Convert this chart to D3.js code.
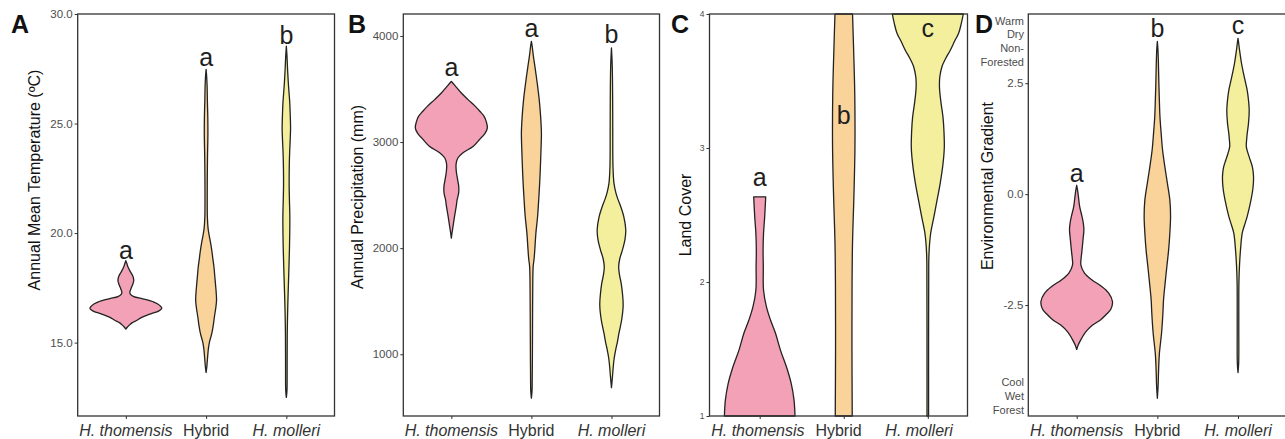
<!DOCTYPE html>
<html><head><meta charset="utf-8">
<script src="https://cdn.jsdelivr.net/npm/d3@7"></script>
<style>body{margin:0;background:#fff}svg{display:block}text{font-family:"Liberation Sans",Arial,Helvetica,sans-serif}</style>
</head><body><svg id="c" width="1285" height="439"></svg>
<script>
// ---------- data ----------
const categories = ["H. thomensis", "Hybrid", "H. molleri"];
const italicLabel = [true, false, true];
const fillColors = ["#F3A1B6", "#F9D39A", "#F4EF9C"];

// Panel A: Annual mean temperature. Profiles are [value, relative density]
const tempTicks = [15, 20, 25, 30];
const tempLetters = ["a", "a", "b"];
const tempLetterAt = [18.81, 27.63, 28.65];
const tempThomensis = [[15.62,0],[15.7,.04],[15.8,.10],[15.9,.17],[16.02,.31],[16.15,.44],[16.3,.67],[16.45,.92],[16.57,1.0],[16.7,.94],[16.85,.78],[17.0,.47],[17.1,.22],[17.2,.13],[17.3,.11],[17.45,.14],[17.65,.19],[17.85,.22],[18.05,.19],[18.25,.12],[18.45,.06],[18.6,.03],[18.74,0]];
const tempHybrid = [[13.64,0],[13.9,.02],[14.3,.04],[14.67,.06],[15.0,.09],[15.43,.16],[15.8,.20],[16.17,.23],[16.6,.27],[16.93,.29],[17.3,.28],[17.68,.26],[18.05,.24],[18.43,.22],[18.8,.19],[19.19,.16],[19.6,.12],[19.94,.08],[20.2,.056],[20.7,.036],[21.5,.031],[22.5,.033],[23.5,.039],[24.5,.05],[25.3,.047],[26.0,.036],[26.7,.028],[27.1,.017],[27.47,0]];
const tempMolleri = [[12.5,0],[12.8,.017],[14.0,.022],[15.4,.025],[16.2,.033],[16.93,.044],[17.7,.058],[18.43,.072],[19.5,.089],[20.7,.097],[21.5,.086],[22.2,.078],[23.0,.081],[23.7,.092],[24.3,.108],[24.8,.117],[25.4,.108],[25.97,.094],[26.7,.061],[27.5,.033],[28.1,.017],[28.53,0]];

// Panel B: Annual precipitation
const precTicks = [1000, 2000, 3000, 4000];
const precLetters = ["a", "a", "b"];
const precLetterAt = [3625, 3987, 3934];
const precThomensis = [[2094,0],[2150,.022],[2205,.047],[2300,.089],[2400,.139],[2457,.161],[2519,.203],[2580,.206],[2645,.175],[2720,.139],[2790,.131],[2850,.181],[2900,.325],[2958,.603],[3022,.778],[3080,.931],[3132,1.0],[3190,.972],[3242,.911],[3290,.792],[3336,.667],[3400,.464],[3462,.278],[3525,.119],[3550,.056],[3572,0]];
const precHybrid = [[586,0],[650,.017],[727,.022],[1000,.028],[1400,.033],[1700,.039],[1830,.05],[1900,.075],[2000,.097],[2142,.125],[2299,.172],[2457,.203],[2620,.231],[2770,.25],[2930,.267],[3085,.278],[3242,.256],[3400,.217],[3557,.161],[3714,.097],[3808,.056],[3903,.022],[3949,0]];
const precMolleri = [[685,0],[789,.028],[883,.05],[960,.075],[1041,.117],[1120,.167],[1198,.208],[1330,.286],[1465,.325],[1570,.306],[1670,.269],[1750,.222],[1826,.2],[1900,.231],[1984,.306],[2080,.375],[2173,.397],[2290,.347],[2393,.256],[2460,.181],[2519,.125],[2613,.069],[2770,.042],[3100,.036],[3400,.033],[3714,.022],[3887,0]];

// Panel C: Land cover
const landTicks = [1, 2, 3, 4];
const landLetters = ["a", "b", "c"];
const landLetterAt = [2.72, 3.18, 3.83];
const landThomensis = [[1.0,.981],[1.12,.953],[1.244,.875],[1.368,.742],[1.49,.578],[1.617,.439],[1.716,.3],[1.816,.186],[1.94,.106],[2.114,.1],[2.24,.094],[2.36,.106],[2.49,.139],[2.636,.167]];
const landHybrid = [[1.0,.236],[1.5,.228],[2.0,.231],[2.3,.244],[2.6,.278],[3.0,.311],[3.4,.306],[3.7,.278],[4.0,.244]];
const landMolleri = [[1.0,.022],[1.5,.022],[2.0,.025],[2.21,.033],[2.36,.078],[2.49,.172],[2.62,.264],[2.74,.347],[2.87,.417],[3.0,.458],[3.12,.45],[3.23,.422],[3.35,.361],[3.45,.325],[3.53,.333],[3.61,.397],[3.67,.5],[3.73,.625],[3.8,.75],[3.856,.856],[3.93,.931],[4.0,.986]];

// Panel D: Environmental gradient
const envTicks = [-2.5, 0, 2.5];
const envLetters = ["a", "b", "c"];
const envLetterAt = [0.28, 3.55, 3.6];
const envTopNote = ["Warm", "Dry", "Non-", "Forested"];
const envBottomNote = ["Cool", "Wet", "Forest"];
const envThomensis = [[-3.5,0],[-3.4,.042],[-3.28,.117],[-3.17,.194],[-3.06,.3],[-2.95,.444],[-2.83,.667],[-2.7,.833],[-2.6,.944],[-2.42,.994],[-2.23,.889],[-2.08,.694],[-1.93,.417],[-1.78,.217],[-1.6,.117],[-1.45,.122],[-1.33,.139],[-1.03,.175],[-0.8,.2],[-0.65,.183],[-0.5,.147],[-0.28,.083],[-0.05,.047],[0.1,.022],[0.2,0]];
const envHybrid = [[-4.6,0],[-4.3,.022],[-4.0,.033],[-3.6,.056],[-3.13,.117],[-2.7,.153],[-2.38,.172],[-2.0,.217],[-1.63,.264],[-1.25,.314],[-0.88,.347],[-0.5,.367],[-0.13,.347],[0.25,.278],[0.62,.208],[1.0,.144],[1.37,.106],[1.75,.072],[2.12,.056],[2.5,.042],[3.0,.028],[3.25,.017],[3.44,0]];
const envMolleri = [[-4.02,0],[-3.8,.019],[-3.0,.022],[-2.0,.025],[-1.6,.042],[-1.26,.069],[-0.88,.117],[-0.7,.18],[-0.5,.256],[-0.13,.361],[0.15,.417],[0.4,.431],[0.6,.403],[0.77,.339],[0.92,.278],[1.07,.231],[1.22,.239],[1.37,.256],[1.6,.292],[1.89,.311],[2.1,.294],[2.34,.256],[2.52,.208],[2.72,.153],[2.95,.097],[3.25,.042],[3.4,.019],[3.51,0]];

// ---------- drawing ----------
const svg = d3.select("#c");
const TOP = 14, BOTTOM = 416;

function drawPanel(o) {
  const g = svg.append("g");
  const y = d3.scaleLinear().domain(o.yDomain).range([BOTTOM, TOP]);
  const xl = d3.scalePoint().domain(categories).range([o.left, o.right]).padding(0.6);
  const xv = o.violinRange ? d3.scalePoint().domain(categories).range(o.violinRange) : xl;
  const w = d3.scaleLinear().domain([0, 1]).range([0, 36]);

  o.profiles.forEach((prof, i) => {
    const c = xv(categories[i]);
    const area = d3.area()
      .y(d => y(d[0]))
      .x0(d => c - w(d[1]))
      .x1(d => c + w(d[1]))
      .curve(d3.curveCatmullRom.alpha(0.5));
    g.append("path").attr("d", area(prof))
      .attr("fill", fillColors[i]).attr("stroke", "#222").attr("stroke-width", 1.3)
      .attr("stroke-linejoin", "round");
  });

  // frame
  g.append("rect").attr("x", o.left).attr("y", TOP)
    .attr("width", o.right - o.left).attr("height", BOTTOM - TOP)
    .attr("fill", "none").attr("stroke", "#333").attr("stroke-width", 1.3);

  // y axis
  const ya = g.append("g").attr("transform", `translate(${o.left},0)`)
    .call(d3.axisLeft(y).tickValues(o.ticks).tickSize(3).tickPadding(2).tickFormat(o.fmt));
  ya.select(".domain").remove();
  ya.selectAll("line").attr("stroke", "#333");
  ya.selectAll("text").attr("fill", "#4d4d4d").style("font-size", (o.tickSize || 11.5) + "px")
    .style("font-family", '"Liberation Sans",Arial,sans-serif');

  // x axis ticks
  const xa = g.append("g").attr("transform", `translate(0,${BOTTOM})`)
    .call(d3.axisBottom(xv).tickSize(3).tickFormat(""));
  xa.select(".domain").remove();
  xa.selectAll("line").attr("stroke", "#333");

  // x labels
  categories.forEach((c, i) => {
    g.append("text").attr("x", xl(c)).attr("y", 435.5)
      .attr("text-anchor", "middle").attr("fill", "#333")
      .style("font-size", "16px").style("font-style", italicLabel[i] ? "italic" : "normal")
      .text(c);
  });

  // significance letters
  o.letters.forEach((l, i) => {
    g.append("text").attr("x", xv(categories[i])).attr("y", y(o.letterAt[i]))
      .attr("text-anchor", "middle").attr("fill", "#1e1e1e")
      .style("font-size", "25px").text(l);
  });

  // y title
  g.append("text").attr("transform", `translate(${o.titleX},${o.titleY}) rotate(-90)`)
    .attr("text-anchor", "middle").attr("fill", "#111").style("font-size", "16px")
    .text(o.title);

  // panel tag
  g.append("text").attr("x", o.tagX).attr("y", 33).attr("fill", "#111")
    .style("font-size", "25px").style("font-weight", "bold").text(o.tag);
  return y;
}

const f1 = d => d3.format(".1f")(d).replace("\u2212", "-");

drawPanel({left: 77.7, right: 334.5, yDomain: [11.65, 30], ticks: tempTicks, fmt: f1,
  profiles: [tempThomensis, tempHybrid, tempMolleri], letters: tempLetters, letterAt: tempLetterAt,
  title: "Annual Mean Temperature (\u00BAC)", titleX: 40, titleY: 180, tag: "A", tagX: 11});

drawPanel({left: 403.3, right: 659.5, yDomain: [418, 4207], ticks: precTicks, fmt: d3.format("d"),
  profiles: [precThomensis, precHybrid, precMolleri], letters: precLetters, letterAt: precLetterAt,
  title: "Annual Precipitation (mm)", titleX: 363, titleY: 197, tag: "B", tagX: 348});

drawPanel({left: 709.5, right: 967.5, yDomain: [1, 4], ticks: landTicks, fmt: d3.format("d"), tickSize: 8.5,
  violinRange: [759.7, 927.8],
  profiles: [landThomensis, landHybrid, landMolleri], letters: landLetters, letterAt: landLetterAt,
  title: "Land Cover", titleX: 691, titleY: 215, tag: "C", tagX: 671});

drawPanel({left: 1028.3, right: 1286.4, yDomain: [-5.0, 4.06], ticks: envTicks, fmt: f1,
  profiles: [envThomensis, envHybrid, envMolleri], letters: envLetters, letterAt: envLetterAt,
  title: "Environmental Gradient", titleX: 993, titleY: 186, tag: "D", tagX: 975});

// Direction notes for panel D
const notes = svg.append("g").attr("fill", "#4d4d4d").style("font-size", "11px").attr("text-anchor", "end");
envTopNote.forEach((t, i) => notes.append("text").attr("x", 1024).attr("y", 24.5 + i * 13.7).text(t));
envBottomNote.forEach((t, i) => notes.append("text").attr("x", 1024).attr("y", 385.5 + i * 14.3).text(t));
</script>
</body></html>
